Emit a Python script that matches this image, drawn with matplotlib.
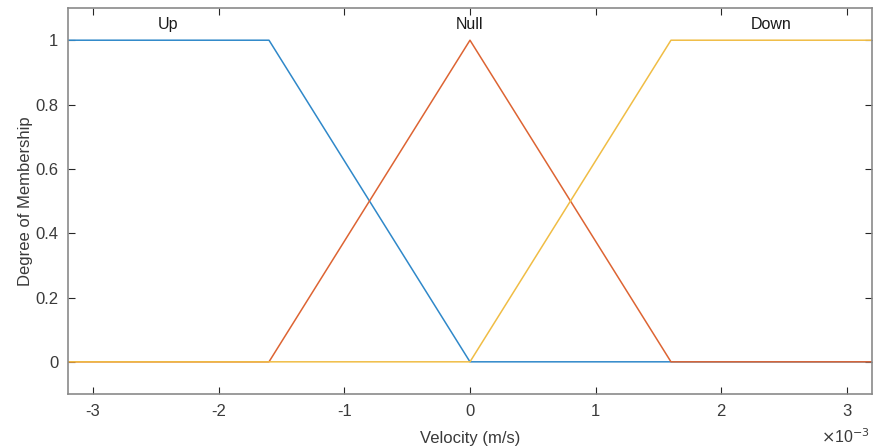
import numpy as np
import matplotlib.pyplot as plt

plt.rcParams['font.family'] = ['Liberation Sans', 'DejaVu Sans']

# membership functions, x in units of 1e-3 m/s
x_up = [-3.2, -3.2, -1.6, 0.0, 3.2]
y_up = [1, 1, 1, 0, 0]
x_null = [-3.2, -1.6, 0.0, 1.6, 3.2]
y_null = [0, 0, 1, 0, 0]
x_down = [-3.2, 0.0, 1.6, 3.2, 3.2]
y_down = [0, 0, 1, 1, 1]

names = ["Up", "Null", "Down"]
name_x = [-2.4, 0.0, 2.4]

xticks = [-3, -2, -1, 0, 1, 2, 3]
yticks = [0, 0.2, 0.4, 0.6, 0.8, 1]

fig = plt.figure(figsize=(8.83, 4.47), dpi=100)
ax = fig.add_axes([0.077, 0.1186, 0.9105, 0.8634])

ax.plot(x_up, y_up, color="#2f88c9", lw=1.1)
ax.plot(x_null, y_null, color="#dd6433", lw=1.1)
ax.plot(x_down, y_down, color="#f0bd45", lw=1.1)

for n, nx in zip(names, name_x):
    ax.text(nx, 1.025, n, ha="center", va="bottom", fontsize=11.5, color="#1a1a1a")

ax.set_xlim(-3.2, 3.2)
ax.set_ylim(-0.1, 1.1)
ax.set_xticks(xticks)
ax.set_xticklabels([str(t) for t in xticks])
ax.set_yticks(yticks)
ax.set_yticklabels(["0", "0.2", "0.4", "0.6", "0.8", "1"])
ax.tick_params(direction="in", top=True, right=True, length=5, width=0.8,
               color="#262626", labelcolor="#3a3a3a", labelsize=12, pad=7)
for s in ax.spines.values():
    s.set_color("#8a8a8a")
    s.set_linewidth(1.2)

ax.set_xlabel("Velocity (m/s)", fontsize=12, color="#3a3a3a", labelpad=9)
ax.set_ylabel("Degree of Membership", fontsize=12, color="#3a3a3a", labelpad=1.5)
fig.text(0.985, 0.003, r"$\times$10$^{-3}$", ha="right", va="bottom",
         fontsize=11.5, color="#3a3a3a")

fig.savefig("out.png", dpi=100)
